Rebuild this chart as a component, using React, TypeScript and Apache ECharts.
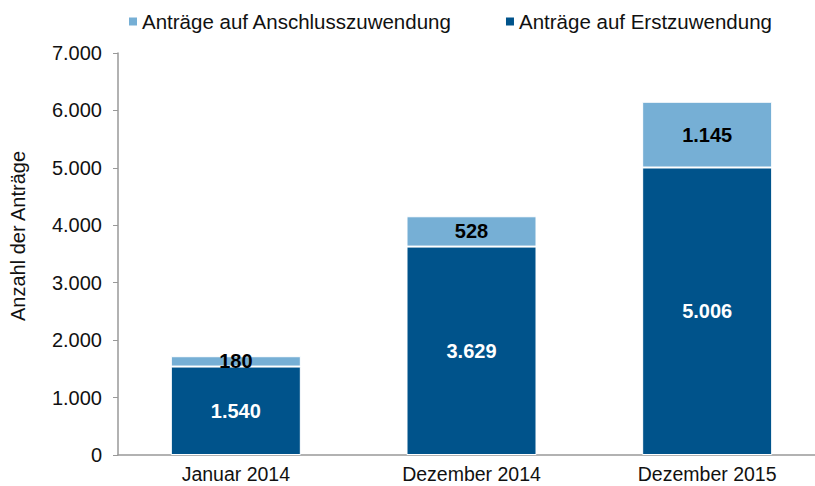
import React, { useEffect, useRef } from "react";
import * as echarts from "echarts";

const categories = ["Januar 2014", "Dezember 2014", "Dezember 2015"];
const erstzuwendung = [1540, 3629, 5006];
const anschlusszuwendung = [180, 528, 1145];
const yTicks = [0, 1000, 2000, 3000, 4000, 5000, 6000, 7000];

const fmt = (v: number) => String(v).replace(/\B(?=(\d{3})+(?!\d))/g, ".");

export default function App() {
  const ref = useRef<HTMLDivElement>(null);
  useEffect(() => {
    const chart = echarts.init(ref.current!, undefined, { renderer: "svg" });
    const font = "'Liberation Sans', Arial, sans-serif";
    chart.setOption({
      animation: false,
      textStyle: { fontFamily: font },
      legend: {
        top: 6,
        left: 122,
        itemWidth: 10,
        itemHeight: 10,
        itemGap: 52,
        icon: "rect",
        data: ["Anträge auf Anschlusszuwendung", "Anträge auf Erstzuwendung"],
        textStyle: { fontSize: 20.5, color: "#111", fontFamily: font, padding: [0, 0, 0, -1] },
      },
      grid: {
        left: 118,
        top: 53,
        width: 707,
        height: 402,
        containLabel: false,
        outerBoundsMode: "none",
      },
      xAxis: {
        type: "category",
        data: categories,
        axisLine: { lineStyle: { color: "#999", width: 1.5 } },
        axisTick: { show: false },
        axisLabel: { fontSize: 19.5, color: "#111", margin: 9, fontFamily: font },
      },
      yAxis: {
        type: "value",
        min: 0,
        max: 7000,
        interval: 1000,
        name: "Anzahl der Anträge",
        nameLocation: "middle",
        nameGap: 90,
        nameTextStyle: { fontSize: 20, color: "#111", fontFamily: font, padding: [0, 0, 0, 36] },
        axisLine: { show: true, lineStyle: { color: "#999", width: 1.5 } },
        axisTick: { show: true, length: 5, lineStyle: { color: "#999" } },
        splitLine: { show: false },
        axisLabel: {
          fontSize: 20,
          color: "#111",
          margin: 16,
          fontFamily: font,
          formatter: (v: number) => (yTicks.includes(v) ? fmt(v) : ""),
        },
      },
      series: [
        {
          name: "Anträge auf Erstzuwendung",
          type: "bar",
          stack: "a",
          barWidth: 130,
          data: erstzuwendung,
          itemStyle: { color: "#00538B", borderColor: "#fff", borderWidth: 1 },
          label: {
            show: true,
            position: "inside",
            color: "#fff",
            fontWeight: "bold",
            fontSize: 20,
            fontFamily: font,
            formatter: (p: any) => fmt(p.value),
          },
        },
        {
          name: "Anträge auf Anschlusszuwendung",
          type: "bar",
          stack: "a",
          barWidth: 130,
          data: anschlusszuwendung,
          itemStyle: { color: "#76AFD5", borderColor: "#fff", borderWidth: 1 },
          label: {
            show: true,
            position: "inside",
            color: "#000",
            fontWeight: "bold",
            fontSize: 20,
            fontFamily: font,
            formatter: (p: any) => fmt(p.value),
          },
        },
      ],
    });
    return () => chart.dispose();
  }, []);
  return <div ref={ref} style={{ width: 815, height: 486, position: "absolute", left: 0, top: 0 }} />;
}
